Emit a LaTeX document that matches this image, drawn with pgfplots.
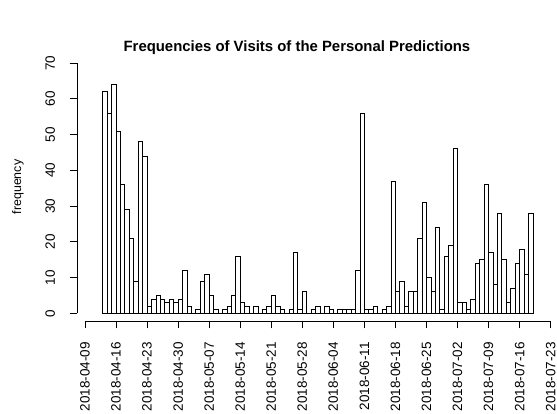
\documentclass[border=0pt]{standalone}
\usepackage{pgfplots}
\pgfplotsset{compat=1.18}
\usepackage{fontspec}
\setmainfont{Liberation Sans}
\begin{document}
\begin{tikzpicture}
\path[use as bounding box] (0,0) rectangle (557pt,414pt);
\begin{axis}[
  at={(77pt,93pt)}, anchor=south west,
  scale only axis, width=478.1pt, height=268pt,
  xmin=-1.8, xmax=106, ymin=-2.15, ymax=72.8,
  axis x line*=bottom, axis y line*=left,
  x axis line style={-, line width=0.8pt, shorten <=8pt, shorten >=4.4pt},
  y axis line style={-, line width=0.8pt, shorten <=7.7pt, shorten >=10pt},
  tick align=outside, major tick length=7.4pt,
  every tick/.style={black, line width=0.8pt},
  xtick={0,7,...,105},
  xticklabels={2018-04-09,2018-04-16,2018-04-23,2018-04-30,2018-05-07,2018-05-14,2018-05-21,2018-05-28,2018-06-04,2018-06-11,2018-06-18,2018-06-25,2018-07-02,2018-07-09,2018-07-16,2018-07-23},
  ytick={0,10,...,70},
  /pgf/number format/assume math mode=true,
  xticklabel shift=13.5pt, yticklabel shift=14.5pt,
  xticklabel style={rotate=90, anchor=east, inner sep=0pt, font=\fontsize{13.5}{15}\selectfont},
  yticklabel style={rotate=90, anchor=south, inner sep=0pt, font=\fontsize{13.5}{15}\selectfont},
  ylabel={frequency},
  ylabel style={at={(axis description cs:-0.1234,0.5)}, anchor=center, font=\fontsize{12.4}{14}\selectfont},
  title={Frequencies of Visits of the Personal Predictions},
  title style={at={(axis description cs:0.460,1)}, anchor=base, yshift=-5pt, font=\fontsize{14.9}{17}\selectfont\bfseries},
]
\addplot[ybar, bar width=1, bar shift=0pt, draw=black, fill=none, line width=0.8pt] coordinates {
(4.5,62) (5.5,56) (6.5,64) (7.5,51) (8.5,36) (9.5,29) (10.5,21) (11.5,9) (12.5,48) (13.5,44)
(14.5,2) (15.5,4) (16.5,5) (17.5,4) (18.5,3) (19.5,4) (20.5,3) (21.5,4) (22.5,12) (23.5,2)
(24.5,0) (25.5,1) (26.5,9) (27.5,11) (28.5,5) (29.5,1) (30.5,0) (31.5,1) (32.5,2) (33.5,5)
(34.5,16) (35.5,3) (36.5,2) (37.5,0) (38.5,2) (39.5,0) (40.5,1) (41.5,2) (42.5,5) (43.5,2)
(44.5,1) (45.5,0) (46.5,1) (47.5,17) (48.5,1) (49.5,6) (50.5,0) (51.5,1) (52.5,2) (53.5,0)
(54.5,2) (55.5,1) (56.5,0) (57.5,1) (58.5,1) (59.5,1) (60.5,1) (61.5,12) (62.5,56) (63.5,1)
(64.5,1) (65.5,2) (66.5,0) (67.5,1) (68.5,2) (69.5,37) (70.5,6) (71.5,9) (72.5,2) (73.5,6)
(74.5,6) (75.5,21) (76.5,31) (77.5,10) (78.5,6) (79.5,24) (80.5,1) (81.5,16) (82.5,19) (83.5,46)
(84.5,3) (85.5,3) (86.5,1) (87.5,4) (88.5,14) (89.5,15) (90.5,36) (91.5,17) (92.5,8) (93.5,28)
(94.5,15) (95.5,3) (96.5,7) (97.5,14) (98.5,18) (99.5,11) (100.5,28)
};
\end{axis}
\end{tikzpicture}
\end{document}
